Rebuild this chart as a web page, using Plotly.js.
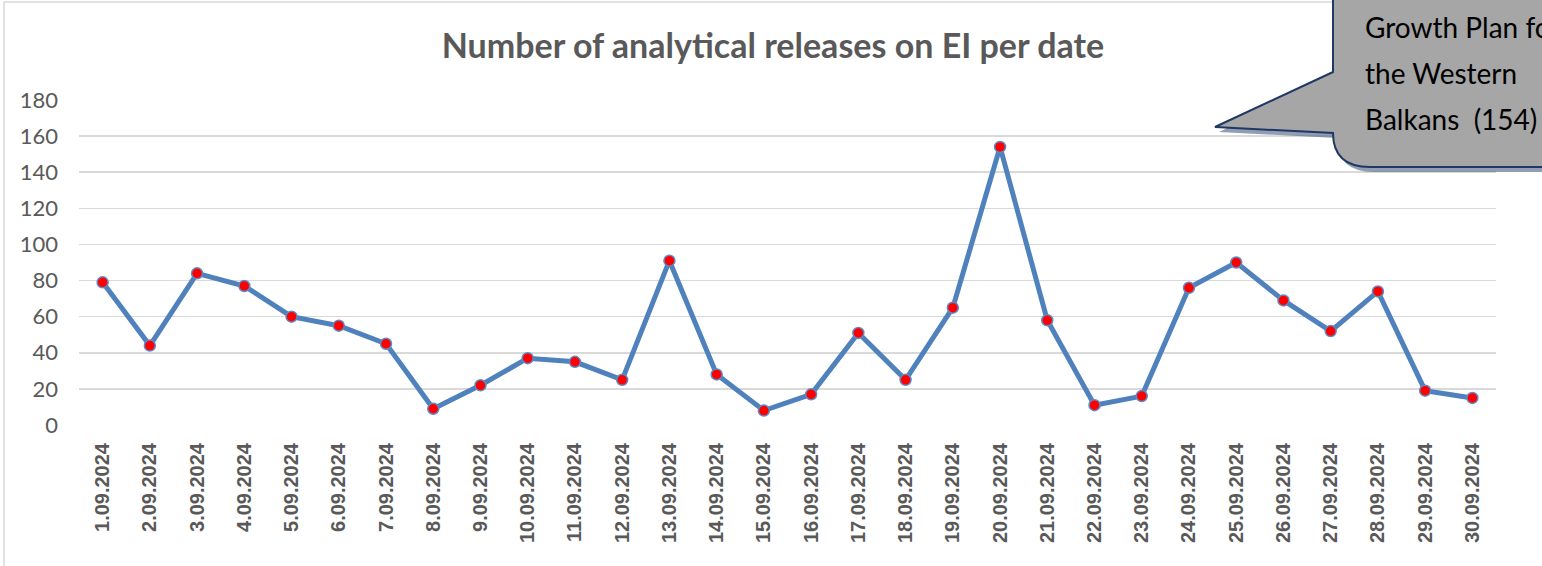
<!DOCTYPE html>
<html>
<head>
<meta charset="utf-8">
<script src="https://cdn.plot.ly/plotly-3.0.1.min.js"></script>
<style>
  html, body { margin: 0; padding: 0; background: #ffffff; }
  #chart { width: 1542px; height: 566px; }
</style>
</head>
<body>
<div id="chart"></div>
<script>
// ---- Data ----
const dates = [
  "1.09.2024","2.09.2024","3.09.2024","4.09.2024","5.09.2024","6.09.2024",
  "7.09.2024","8.09.2024","9.09.2024","10.09.2024","11.09.2024","12.09.2024",
  "13.09.2024","14.09.2024","15.09.2024","16.09.2024","17.09.2024","18.09.2024",
  "19.09.2024","20.09.2024","21.09.2024","22.09.2024","23.09.2024","24.09.2024",
  "25.09.2024","26.09.2024","27.09.2024","28.09.2024","29.09.2024","30.09.2024"
];
const releases = [
  79, 44, 84, 77, 60, 55,
  45, 9, 22, 37, 35, 25,
  91, 28, 8, 17, 51, 25,
  65, 154, 58, 11, 16, 76,
  90, 69, 52, 74, 19, 15
];
const yTicks = [0, 20, 40, 60, 80, 100, 120, 140, 160, 180];
const chartTitle = "Number of analytical releases on EI per date";
const calloutLines = ["Growth Plan for", "the Western", "Balkans  (154)"];

// ---- Layout geometry (pixels) ----
const W = 1542, H = 566;
const M = { l: 79, r: 46, t: 100, b: 141 };
const PW = W - M.l - M.r, PH = H - M.t - M.b;
const fx = px => (px - M.l) / PW;
const fy = py => (H - M.b - py) / PH;

function calloutPath(dx, dy) {
  const p = (x, y) => fx(x + dx).toFixed(5) + "," + fy(y + dy).toFixed(5);
  return "M" + p(1333, -10) +
         " L" + p(1333, 72) +
         " L" + p(1215, 127) +
         " L" + p(1333, 133) +
         " Q" + p(1333, 167) + " " + p(1370, 167) +
         " L" + p(1600, 167) +
         " L" + p(1600, -10) + " Z";
}

const trace = {
  x: dates,
  y: releases,
  type: "scatter",
  mode: "lines+markers",
  line: { color: "#4f81bd", width: 5 },
  marker: { color: "#ff0000", size: 11, line: { color: "#5b8cc8", width: 1.5 } },
  hoverinfo: "skip",
  cliponaxis: false
};

const layout = {
  width: W, height: H,
  margin: M,
  paper_bgcolor: "#ffffff",
  plot_bgcolor: "#ffffff",
  showlegend: false,
  title: {
    text: chartTitle,
    font: { family: "Lato, 'Open Sans', sans-serif", size: 34, color: "#595959", weight: "bold" },
    xref: "paper", x: fx(773), xanchor: "center",
    yref: "container", y: 1 - 46 / H, yanchor: "middle"
  },
  xaxis: {
    type: "category",
    categoryorder: "array",
    categoryarray: dates,
    range: [-0.5, dates.length - 0.5],
    tickangle: -90,
    tickfont: { family: "'Liberation Sans', Arial, sans-serif", size: 20, color: "#595959", weight: "bold" },
    showgrid: false,
    showline: false,
    zeroline: false,
    ticks: "",
    ticklabelstandoff: 13,
    fixedrange: true
  },
  yaxis: {
    range: [0, 180],
    tickvals: yTicks,
    ticktext: yTicks.map(String),
    tickfont: { family: "Lato, 'Open Sans', sans-serif", size: 22, color: "#595959" },
    showgrid: true,
    gridcolor: "#d9d9d9",
    gridwidth: 1.5,
    zeroline: false,
    showline: false,
    ticks: "",
    ticklabelstandoff: 20,
    fixedrange: true
  },
  shapes: [
    // outer chart border
    { type: "rect", xref: "paper", yref: "paper", layer: "below",
      x0: fx(4), x1: fx(1600), y0: fy(2), y1: fy(620),
      line: { color: "#d9d9d9", width: 1.5 }, fillcolor: "rgba(0,0,0,0)" },
    // callout shadow
    { type: "path", xref: "paper", yref: "paper", layer: "above",
      path: calloutPath(4, 5), fillcolor: "rgba(84,105,138,0.65)",
      line: { width: 0 } },
    // callout body
    { type: "path", xref: "paper", yref: "paper", layer: "above",
      path: calloutPath(0, 0), fillcolor: "#a6a6a6",
      line: { color: "#1f3864", width: 2 } }
  ],
  annotations: calloutLines.map((t, i) => ({
    text: t,
    xref: "paper", yref: "paper",
    x: fx(1363), y: fy(27 + i * 46),
    xanchor: "left", yanchor: "middle",
    showarrow: false,
    font: { family: "Lato, 'Open Sans', sans-serif", size: 28, color: "#000000" }
  }))
};

Plotly.newPlot("chart", [trace], layout, { staticPlot: true, displayModeBar: false });
</script>
</body>
</html>
